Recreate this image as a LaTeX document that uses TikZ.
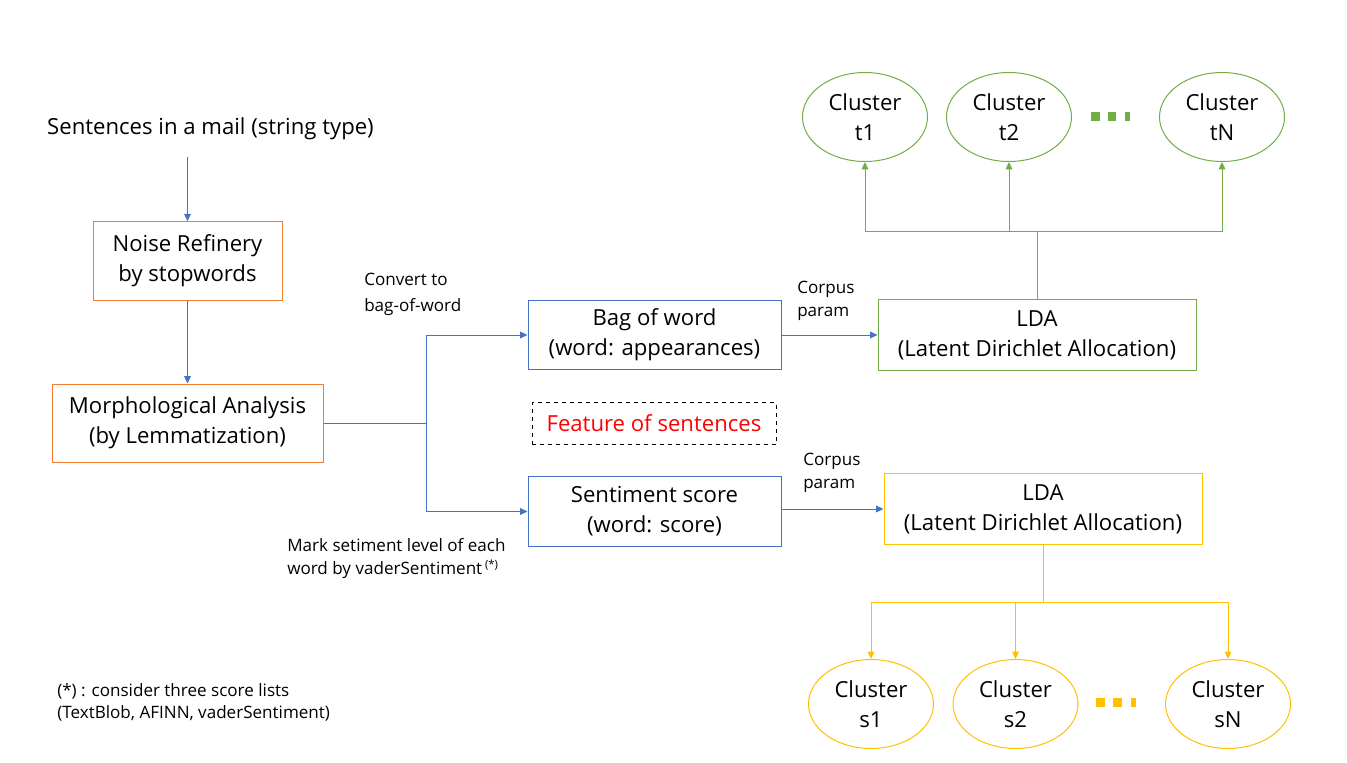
\documentclass[tikz,border=0pt]{standalone}
\usepackage{fontspec}
\setmainfont{Open Sans}
\usetikzlibrary{arrows.meta,shapes.geometric}
\definecolor{cblue}{HTML}{4472C4}
\definecolor{corange}{HTML}{ED7D31}
\definecolor{cgreen}{HTML}{70AD47}
\definecolor{cgold}{HTML}{FFC000}
\definecolor{cred}{HTML}{FF0000}
\tikzset{
  every node/.style={font=\fontsize{16.6}{22.5}\selectfont, inner sep=0pt, align=center},
  box/.style={draw, rectangle, line width=0.75pt},
  orangebox/.style={box, draw=corange},
  bluebox/.style={box, draw=cblue},
  greenbox/.style={box, draw=cgreen},
  goldbox/.style={box, draw=cgold},
  clus/.style={draw, ellipse, line width=0.75pt, minimum width=93.75pt, minimum height=66.75pt},
  small/.style={font=\fontsize{12.8}{17.5}\selectfont, align=left},
  arr/.style={line width=0.75pt, -{Triangle[length=5.5pt,width=5pt]}},
  ln/.style={line width=0.75pt},
}
\begin{document}
\begin{tikzpicture}[x=0.75pt,y=-0.75pt]
\useasboundingbox (0,0) rectangle (1347,763);
% left column
\node (src) at (210.5,129) {Sentences in a mail (string type)};
\coordinate (srcout) at (187.5,157);
\node[orangebox, minimum width=141.75pt, minimum height=59pt] (noise) at (187.5,261) {Noise Refinery\\by stopwords};
\node[orangebox, minimum width=203.25pt, minimum height=58.5pt] (morph) at (187.5,423) {Morphological Analysis\\(by Lemmatization)};
\draw[arr, cblue] (srcout) -- (noise.north);
\draw[arr, cblue] (noise.south) -- (morph.north);
% middle column
\node[bluebox, minimum width=189.75pt, minimum height=52pt] (bag) at (654.5,335) {Bag of word\\(word: appearances)};
\node[draw, dashed, line width=0.6pt, minimum width=183pt, minimum height=31.5pt, text=cred] (feat) at (654,423.5) {Feature of sentences};
\node[bluebox, minimum width=189.75pt, minimum height=53pt] (sent) at (654.5,511.5) {Sentiment score\\(word: score)};
\coordinate (split) at (426,423);
\draw[ln, cblue] (morph.east) -- (split);
\draw[arr, cblue] (split) |- (bag.west);
\draw[arr, cblue] (split) |- (sent.west);
\node[small, anchor=north west, font=\fontsize{12.8}{20}\selectfont] (conv) at (364,272.5) {Convert to\\bag-of-word};
\node[small, anchor=north west] (mark) at (287,538) {Mark setiment level of each\\word by vaderSentiment\,\raisebox{0.7ex}{\fontsize{8.5}{9}\selectfont(*)}};
% LDA boxes
\node[greenbox, minimum width=238.5pt, minimum height=52.5pt] (lda1) at (1037,335) {LDA\\(Latent Dirichlet Allocation)};
\node[goldbox, minimum width=238.5pt, minimum height=53pt] (lda2) at (1043,509) {LDA\\(Latent Dirichlet Allocation)};
\draw[arr, cblue] (bag.east) -- (lda1.west);
\draw[arr, cblue] (sent.east |- lda2.west) -- (lda2.west);
\node[small, anchor=north west] (cp1) at (797,281) {Corpus\\param};
\node[small, anchor=north west] (cp2) at (803,453) {Corpus\\param};
% top clusters
\node[clus, draw=cgreen] (t1) at (865,117) {Cluster\\t1};
\node[clus, draw=cgreen] (t2) at (1009,117) {Cluster\\t2};
\node[clus, draw=cgreen] (tN) at (1222,117) {Cluster\\tN};
\coordinate (hub1) at (1037,232);
\draw[ln, cgreen] (lda1.north) -- (hub1);
\draw[arr, cgreen] (hub1) -| (t1.south);
\draw[arr, cgreen] (hub1) -| (t2.south);
\draw[arr, cgreen] (hub1) -| (tN.south);
\fill[cgreen] (1091,112) rectangle (1099.5,121);
\fill[cgreen] (1107.5,112) rectangle (1116,121);
\fill[cgreen] (1124.5,112) rectangle (1130,121);
% bottom clusters
\node[clus, draw=cgold] (s1) at (871,704) {Cluster\\s1};
\node[clus, draw=cgold] (s2) at (1015.5,704) {Cluster\\s2};
\node[clus, draw=cgold] (sN) at (1228,704) {Cluster\\sN};
\coordinate (hub2) at (1043,602);
\draw[ln, cgold] (lda2.south) -- (hub2);
\draw[arr, cgold] (hub2) -| (s1.north);
\draw[arr, cgold] (hub2) -| (s2.north);
\draw[arr, cgold] (hub2) -| (sN.north);
\fill[cgold] (1096,698) rectangle (1104.5,707);
\fill[cgold] (1113,698) rectangle (1121.5,707);
\fill[cgold] (1130.5,698) rectangle (1136,707);
% footnote
\node[small, anchor=north west, font=\fontsize{12.8}{16.5}\selectfont] (foot) at (57,683) {(*) : consider three score lists\\(TextBlob, AFINN, vaderSentiment)};
\end{tikzpicture}
\end{document}
